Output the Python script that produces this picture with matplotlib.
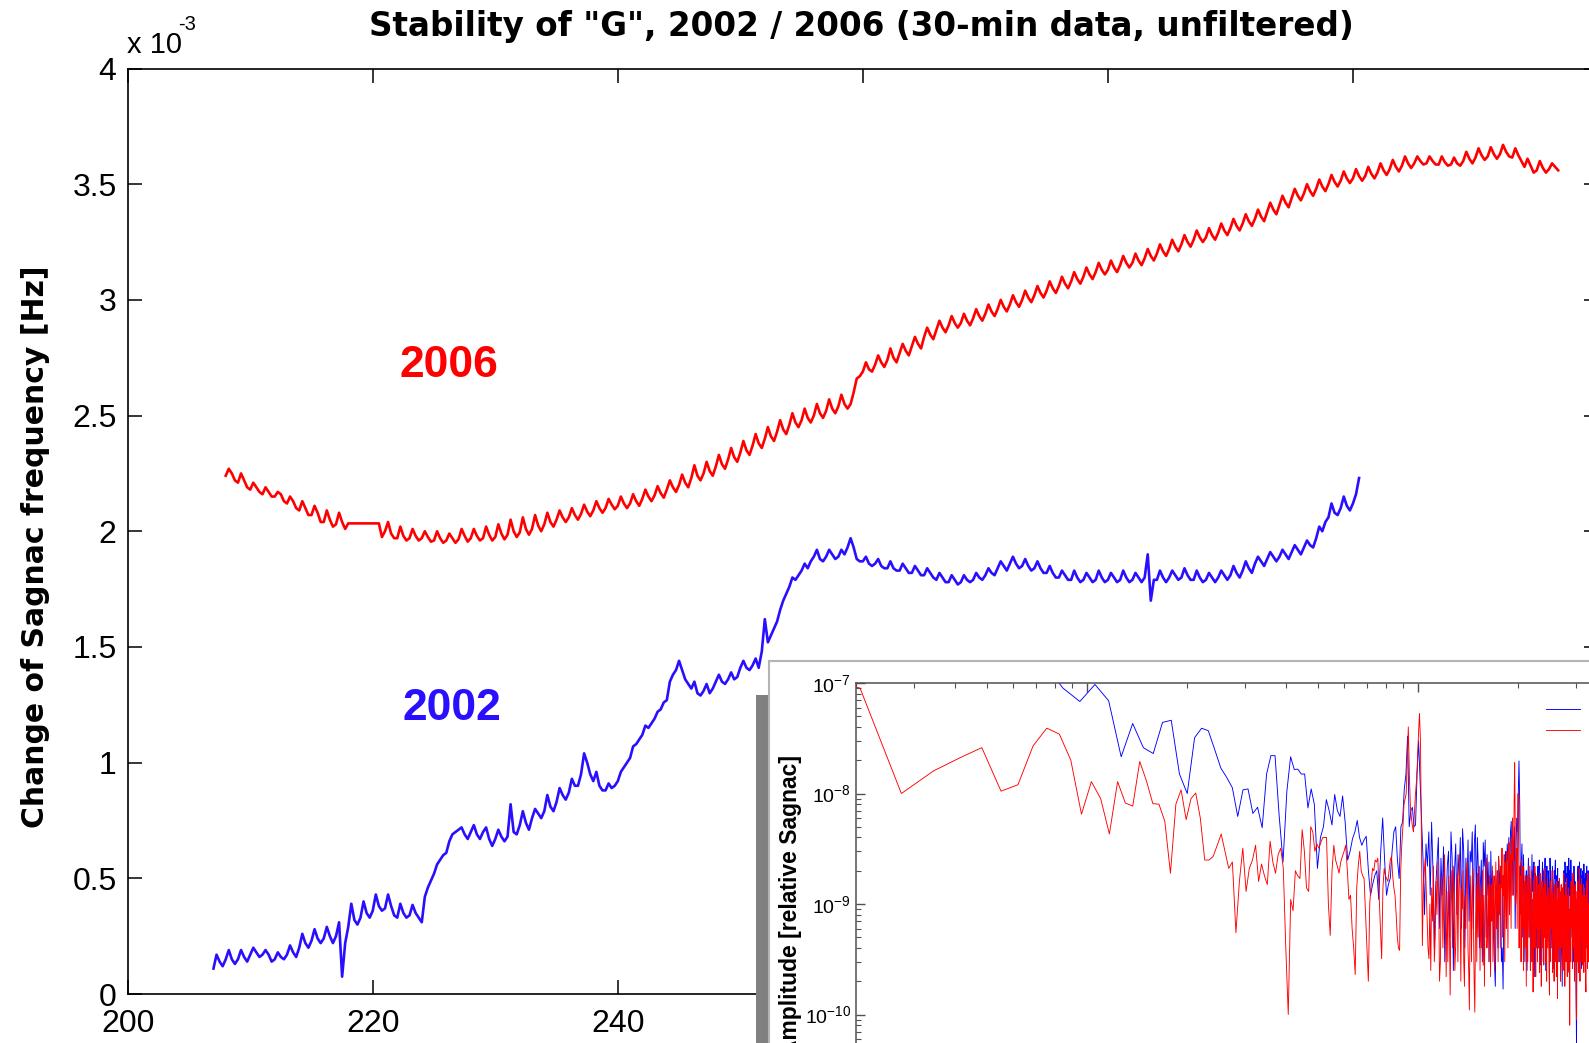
import numpy as np
import matplotlib
matplotlib.use("Agg")
import matplotlib.pyplot as plt
from matplotlib.patches import Rectangle
from matplotlib.ticker import MultipleLocator, FormatStrFormatter, LogLocator, FixedLocator

plt.rcParams['font.family'] = ['Liberation Sans', 'DejaVu Sans']
plt.rcParams['mathtext.fontset'] = 'custom'
plt.rcParams['mathtext.rm'] = 'Liberation Sans'
plt.rcParams['mathtext.it'] = 'Liberation Sans:italic'
plt.rcParams['mathtext.bf'] = 'Liberation Sans:bold'

# Change of Sagnac frequency, 6-hourly values [1e-3 Hz]
step_days = 0.25
start_2006 = 208.0
sagnac_2006 = [
    2.24, 2.27, 2.25, 2.22,  2.21, 2.25, 2.22, 2.19,  2.18, 2.21, 2.19, 2.17,
    2.16, 2.19, 2.17, 2.15,  2.15, 2.17, 2.16, 2.13,  2.12, 2.15, 2.13, 2.10,
    2.09, 2.13, 2.10, 2.07,  2.07, 2.11, 2.08, 2.04,  2.04, 2.09, 2.05, 2.02,
    2.03, 2.08, 2.04, 2.01,  2.034, 2.034, 2.034, 2.034,  2.034, 2.034, 2.034, 2.034,
    2.034, 2.034, 2.034, 1.975,  2.00, 2.04, 1.99, 1.97,  1.97, 2.02, 1.98, 1.96,
    1.97, 2.01, 1.98, 1.96,  1.97, 2.00, 1.975, 1.955,  1.96, 2.00, 1.97, 1.95,
    1.96, 1.99, 1.97, 1.95,  1.965, 2.01, 1.98, 1.955,  1.97, 2.01, 1.98, 1.96,
    1.97, 2.02, 1.985, 1.96,  1.975, 2.03, 1.99, 1.965,  1.985, 2.05, 2.00, 1.975,
    1.995, 2.06, 2.01, 1.985,  2.01, 2.07, 2.025, 2.00,  2.03, 2.08, 2.04, 2.02,
    2.05, 2.09, 2.06, 2.04,  2.06, 2.10, 2.07, 2.05,  2.075, 2.115, 2.085, 2.065,
    2.09, 2.13, 2.10, 2.08,  2.10, 2.14, 2.115, 2.095,  2.11, 2.15, 2.12, 2.10,
    2.12, 2.16, 2.13, 2.11,  2.14, 2.18, 2.15, 2.13,  2.155, 2.195, 2.165, 2.145,
    2.18, 2.22, 2.19, 2.17,  2.20, 2.245, 2.21, 2.19,  2.23, 2.285, 2.24, 2.22,
    2.25, 2.30, 2.26, 2.24,  2.28, 2.33, 2.29, 2.27,  2.31, 2.36, 2.32, 2.30,
    2.34, 2.39, 2.35, 2.33,  2.37, 2.42, 2.38, 2.36,  2.40, 2.45, 2.41, 2.39,
    2.43, 2.48, 2.44, 2.42,  2.46, 2.51, 2.47, 2.45,  2.48, 2.53, 2.49, 2.47,
    2.50, 2.55, 2.51, 2.49,  2.52, 2.57, 2.53, 2.51,  2.54, 2.59, 2.55, 2.53,
    2.55, 2.60, 2.66, 2.67,  2.69, 2.73, 2.70, 2.69,  2.72, 2.76, 2.73, 2.71,
    2.74, 2.79, 2.75, 2.73,  2.77, 2.81, 2.78, 2.76,  2.80, 2.84, 2.81, 2.79,
    2.84, 2.88, 2.85, 2.83,  2.87, 2.91, 2.88, 2.86,  2.89, 2.93, 2.90, 2.88,
    2.90, 2.94, 2.91, 2.89,  2.92, 2.96, 2.93, 2.91,  2.94, 2.98, 2.95, 2.93,
    2.96, 3.00, 2.97, 2.95,  2.98, 3.02, 2.99, 2.97,  3.00, 3.04, 3.01, 2.99,
    3.02, 3.06, 3.03, 3.01,  3.04, 3.08, 3.05, 3.03,  3.06, 3.10, 3.07, 3.05,
    3.08, 3.12, 3.09, 3.07,  3.10, 3.14, 3.11, 3.09,  3.12, 3.16, 3.13, 3.11,
    3.13, 3.17, 3.14, 3.12,  3.15, 3.19, 3.16, 3.14,  3.16, 3.20, 3.17, 3.15,
    3.18, 3.22, 3.19, 3.17,  3.20, 3.24, 3.21, 3.19,  3.22, 3.26, 3.23, 3.21,
    3.24, 3.28, 3.25, 3.23,  3.26, 3.30, 3.27, 3.25,  3.27, 3.31, 3.28, 3.26,
    3.29, 3.33, 3.30, 3.28,  3.31, 3.35, 3.32, 3.30,  3.33, 3.37, 3.34, 3.32,
    3.35, 3.39, 3.36, 3.34,  3.38, 3.42, 3.39, 3.37,  3.41, 3.45, 3.42, 3.40,
    3.44, 3.48, 3.45, 3.43,  3.46, 3.50, 3.47, 3.45,  3.48, 3.52, 3.49, 3.47,
    3.50, 3.54, 3.51, 3.49,  3.515, 3.555, 3.525, 3.505,  3.525, 3.565, 3.535, 3.515,
    3.535, 3.575, 3.545, 3.525,  3.55, 3.59, 3.56, 3.54,  3.565, 3.605, 3.575, 3.555,
    3.58, 3.62, 3.59, 3.57,  3.59, 3.62, 3.60, 3.585,  3.59, 3.62, 3.60, 3.585,
    3.585, 3.62, 3.595, 3.58,  3.585, 3.615, 3.59, 3.58,  3.60, 3.64, 3.61, 3.59,
    3.615, 3.655, 3.625, 3.605,  3.62, 3.66, 3.63, 3.61,  3.63, 3.67, 3.64, 3.62,
    3.615, 3.655, 3.625, 3.60,  3.575, 3.61, 3.58, 3.55,  3.56, 3.60, 3.57, 3.55,
    3.565, 3.59, 3.575, 3.56,
]

start_2002 = 207.0
sagnac_2002 = [
    0.11, 0.17, 0.14, 0.12,  0.15, 0.19, 0.15, 0.13,  0.15, 0.19, 0.16, 0.14,
    0.17, 0.20, 0.18, 0.16,  0.17, 0.19, 0.17, 0.14,  0.15, 0.18, 0.16, 0.15,
    0.17, 0.21, 0.18, 0.16,  0.20, 0.26, 0.22, 0.20,  0.23, 0.28, 0.24, 0.22,
    0.24, 0.29, 0.25, 0.22,  0.25, 0.31, 0.075, 0.22,  0.29, 0.39, 0.32, 0.30,
    0.33, 0.40, 0.35, 0.33,  0.36, 0.43, 0.38, 0.36,  0.37, 0.43, 0.38, 0.34,
    0.33, 0.39, 0.35, 0.33,  0.34, 0.385, 0.35, 0.33,  0.31, 0.42, 0.46, 0.49,
    0.52, 0.56, 0.58, 0.60,  0.61, 0.66, 0.69, 0.70,  0.71, 0.72, 0.69, 0.67,
    0.70, 0.73, 0.69, 0.67,  0.70, 0.72, 0.67, 0.64,  0.67, 0.71, 0.68, 0.66,
    0.68, 0.82, 0.70, 0.69,  0.73, 0.79, 0.74, 0.71,  0.76, 0.80, 0.78, 0.76,
    0.79, 0.86, 0.81, 0.79,  0.83, 0.89, 0.86, 0.84,  0.87, 0.93, 0.90, 0.90,
    0.95, 1.04, 1.00, 0.95,  0.92, 0.96, 0.90, 0.88,  0.88, 0.91, 0.89, 0.90,
    0.92, 0.96, 0.98, 1.00,  1.02, 1.07, 1.08, 1.10,  1.12, 1.16, 1.15, 1.17,
    1.19, 1.22, 1.23, 1.26,  1.27, 1.35, 1.38, 1.40,  1.44, 1.40, 1.36, 1.34,
    1.32, 1.35, 1.30, 1.29,  1.31, 1.34, 1.30, 1.32,  1.35, 1.38, 1.35, 1.34,
    1.36, 1.39, 1.36, 1.37,  1.41, 1.44, 1.41, 1.40,  1.42, 1.45, 1.41, 1.48,
    1.62, 1.52, 1.55, 1.58,  1.61, 1.66, 1.70, 1.73,  1.76, 1.80, 1.79, 1.81,
    1.83, 1.86, 1.84, 1.87,  1.89, 1.92, 1.88, 1.87,  1.89, 1.92, 1.90, 1.88,
    1.89, 1.92, 1.90, 1.93,  1.97, 1.93, 1.88, 1.87,  1.87, 1.89, 1.86, 1.85,
    1.86, 1.88, 1.85, 1.84,  1.84, 1.87, 1.84, 1.83,  1.83, 1.86, 1.84, 1.82,
    1.82, 1.85, 1.83, 1.81,  1.81, 1.84, 1.82, 1.80,  1.79, 1.82, 1.80, 1.78,
    1.78, 1.81, 1.79, 1.77,  1.78, 1.81, 1.79, 1.78,  1.79, 1.82, 1.80, 1.79,
    1.81, 1.84, 1.82, 1.81,  1.84, 1.87, 1.85, 1.83,  1.86, 1.89, 1.86, 1.84,
    1.85, 1.88, 1.85, 1.83,  1.84, 1.87, 1.84, 1.82,  1.82, 1.85, 1.82, 1.80,
    1.80, 1.83, 1.81, 1.79,  1.79, 1.83, 1.80, 1.78,  1.79, 1.82, 1.80, 1.78,
    1.79, 1.83, 1.80, 1.78,  1.79, 1.82, 1.80, 1.78,  1.79, 1.83, 1.80, 1.78,
    1.79, 1.82, 1.80, 1.78,  1.80, 1.90, 1.70, 1.79,  1.79, 1.83, 1.80, 1.78,
    1.80, 1.83, 1.81, 1.79,  1.80, 1.84, 1.81, 1.79,  1.79, 1.83, 1.80, 1.78,
    1.79, 1.82, 1.80, 1.78,  1.80, 1.83, 1.81, 1.79,  1.81, 1.85, 1.82, 1.80,
    1.83, 1.87, 1.84, 1.82,  1.86, 1.89, 1.87, 1.85,  1.88, 1.91, 1.89, 1.87,
    1.89, 1.92, 1.90, 1.88,  1.91, 1.94, 1.92, 1.90,  1.93, 1.96, 1.94, 1.93,
    1.97, 2.02, 2.00, 2.04,  2.06, 2.12, 2.08, 2.07,  2.10, 2.15, 2.11, 2.09,
    2.12, 2.16, 2.23,
]

# Amplitude spectra [1e-10 relative Sagnac]; first value is frequency bin 2
df_2006 = 0.00688   # cycles per day
df_2002 = 0.01058
first_bin = 2
amp_2006 = [
    1200, 900, 100, 160, 210, 260, 105, 120, 270, 390, 345, 200, 65, 128, 90, 43,
    128, 82, 77, 195, 130, 81, 80, 56, 19, 80, 108, 58, 90, 101, 60, 25,
    25, 27, 34, 43, 30, 21, 24, 5.5, 16, 32, 13, 21, 25, 34, 16, 23,
    18, 15, 37, 24, 19, 28, 32, 21, 4, 1.0, 11, 8.7, 20, 18, 17, 47,
    30, 14, 13, 50, 45, 30, 35, 32, 36, 40, 40, 40, 10, 5.2, 20, 34,
    25, 22, 19, 24, 27, 30, 34, 20, 11, 12, 6, 4, 2.3, 14, 22, 30,
    20, 18, 17, 8, 4, 2.0, 10, 15, 21, 20, 25, 24, 26, 12, 6, 3.2,
    14, 21, 18, 17, 16, 20, 25, 27, 18, 14, 12, 8, 5, 4, 3.8, 20,
    35, 50, 80, 90, 100, 200, 400, 150, 75, 60, 50, 45, 70, 100, 130, 200,
    350, 530, 300, 40, 4.2, 15, 20, 26, 14, 8, 4, 3.2,
    10, 2.5, 14, 7, 22, 3, 5, 16, 8, 24, 11, 2, 3, 12, 18, 4, 10, 28, 9, 2.2,
    13, 3, 18, 6, 1.5, 10, 20, 4, 22, 12, 2.5, 4, 11, 19, 3, 13, 28, 10, 2, 14,
    9, 20, 3, 1.8, 12, 6, 17, 24, 4, 2.5, 1.1, 9, 18, 3, 11, 21, 6, 2, 1.05, 6,
    15, 3, 19, 5, 11, 22, 2.5, 14, 4, 10, 20, 2.8, 12, 1.8, 9, 17, 26, 4, 6, 15,
    3, 18, 11, 2.2, 15, 7, 22, 3, 12, 18, 2.5, 10, 24, 6, 13, 20, 3, 27, 8, 15,
    4, 22, 14, 32, 5, 18, 12, 28, 3, 16, 24, 6, 30, 14, 4, 20, 36, 8, 18, 28,
    6, 40, 25, 60, 12, 20, 90, 190, 60, 10, 15, 32, 6, 45, 100, 35, 4, 22, 8, 18,
    3, 25, 6, 15, 22, 2.5, 6, 16, 4, 18, 12, 1.8, 11, 18, 3, 13, 22, 5, 10, 17,
    2.5, 5, 12, 20, 3, 11, 1.6, 9, 16, 4, 22, 10, 2.2, 13, 6, 18, 3, 11, 4, 15,
    10, 2.4, 19, 6, 12, 1.8, 8, 16, 4, 7, 14, 2.8, 21, 5, 10, 15, 3, 12, 2, 9,
    17, 4, 7, 14, 2.6, 1.5, 11, 16, 3, 12, 6, 10, 20, 2.4, 13, 5, 11, 2, 9, 15,
    3, 12, 10, 2.2, 16, 6, 1.4, 11, 4, 14, 7, 17, 3, 12, 2, 10, 15, 4, 11, 6,
    14, 2.5, 10, 19, 4, 12, 1.8, 9, 15, 3, 11, 17, 5, 2.2, 12, 6, 14, 10, 2.4, 9,
    0.8, 5, 12, 3, 16, 6, 10, 14, 2.6, 11, 19, 4, 9, 12, 2, 10, 15, 3, 11, 1.5,
    0.9, 6, 13, 3, 16, 7, 2.4, 13, 8, 21, 4, 2, 11, 15, 3, 10, 17, 5, 12, 2.8,
    5, 11, 15, 2.4, 10, 14, 3, 12, 9, 2, 1.6, 10, 16, 4, 12, 2.6, 19, 7, 3, 10, 8,
]
amp_2002 = [
    6000, 4000, 3000, 2500, 2000, 1500, 900, 680, 970, 690, 215, 430, 260, 230, 440,
    460, 150, 100, 320, 390, 370, 250, 170, 140, 113, 62, 108, 110, 66, 75, 49,
    150, 220, 220, 64, 24, 105, 215, 165, 166, 150, 150, 74, 110, 80, 21, 40,
    50, 88, 70, 52, 98, 70, 62, 95, 55, 25, 30, 39, 45, 57, 40, 34,
    38, 41, 20, 12, 15, 18, 20, 11, 30, 60, 25, 12, 15, 17, 30, 45,
    50, 25, 17, 50, 55, 110, 150, 330, 50, 70, 75, 50, 52, 150, 300, 130,
    60, 25, 8, 35, 22, 45, 12, 55, 20, 4, 14, 24, 40, 6, 26, 12, 33, 3, 9, 22,
    30, 5, 45, 25, 2.5, 20, 35, 8, 28, 18, 40, 6, 48, 30, 4, 26, 14, 38, 7, 30,
    24, 45, 6, 35, 52, 10, 40, 20, 4, 15, 25, 3, 36, 22, 38, 5, 28, 12, 24, 3,
    30, 12, 20, 5, 3, 1.8, 10, 20, 4, 25, 14, 22, 3, 4, 1.7, 12, 20, 30, 6, 35,
    25, 40, 8, 45, 56, 12, 38, 25, 50, 6, 30, 60, 45, 90, 197, 80, 10, 22, 35, 5,
    28, 15, 3, 12, 20, 2.5, 16, 26, 5, 22, 10, 3, 28, 13, 20, 24, 2.2, 19, 15, 4,
    12, 22, 4, 25, 13, 2.8, 9, 16, 24, 3, 20, 14, 26, 2.5, 18, 22, 5, 20, 16, 3,
    26, 14, 4, 11, 22, 15, 2.6, 20, 17, 25, 4, 18, 14, 21, 3, 16, 8, 13, 2.2, 10,
    4, 1.8, 8, 15, 20, 3, 24, 16, 19, 4, 22, 14, 2.5, 26, 12, 20, 3, 25, 13, 5,
    10, 19, 3, 22, 9, 16, 6, 2, 0.5, 8, 15, 22, 3, 19, 24, 4, 17, 21, 2.6, 18,
    10, 20, 3, 23, 12, 17, 2.4, 19, 14, 22, 4, 16, 20, 3, 19, 15,
]

RED = '#ff0000'
BLUE_MAIN = '#2a0fff'
BLUE_FFT = '#0000ff'

W, H = 1589, 1043
fig = plt.figure(figsize=(W / 100, H / 100), dpi=100)


def px_rect(left, top, right, bottom):
    return [left / W, 1 - bottom / H, (right - left) / W, (bottom - top) / H]


# ---- main time-series axes ----
ax = fig.add_axes(px_rect(127.7, 68.5, 1598, 994), zorder=0)
t_2006 = start_2006 + step_days * np.arange(len(sagnac_2006))
t_2002 = start_2002 + step_days * np.arange(len(sagnac_2002))
ax.plot(t_2006, sagnac_2006, color=RED, lw=1.9)
ax.plot(t_2002, sagnac_2002, color=BLUE_MAIN, lw=1.9)
ax.set_xlim(200, 320)
ax.set_ylim(0, 4)
x_ticks = [200, 220, 240, 260, 280, 300, 320]
ax.xaxis.set_major_locator(FixedLocator(x_ticks))
# labels right of 240 sit under the spectrum panel
ax.set_xticklabels(['200', '220', '240', '', '', '', ''])
ax.yaxis.set_major_locator(MultipleLocator(0.5))
ax.yaxis.set_major_formatter(FormatStrFormatter('%g'))
ax.tick_params(direction='in', length=10, width=1.1, top=True, right=True,
               labelsize=23, pad=8)
ax.tick_params(axis='x', pad=11)
for sp in ax.spines.values():
    sp.set_linewidth(1.2)

ax.text(222.2, 2.666, '2006', color=RED, fontsize=32, fontweight='bold',
        ha='left', va='baseline')
ax.text(222.4, 1.184, '2002', color=BLUE_MAIN, fontsize=32, fontweight='bold',
        ha='left', va='baseline')

fig.text(127 / W, 1 - 53 / H, 'x 10', fontsize=21, ha='left', va='baseline')
fig.text(178 / W, 1 - 30 / H, '-3', fontsize=14.5, ha='left', va='baseline')
fig.text(861 / W, 1 - 36 / H,
         'Stability of "G", 2002 / 2006 (30-min data, unfiltered)',
         family='DejaVu Sans', fontweight='bold', fontsize=23.5,
         ha='center', va='baseline')
fig.text(36 / W, 1 - 547 / H, 'Change of Sagnac frequency [Hz]',
         family='DejaVu Sans', fontweight='bold', fontsize=21.5,
         rotation=90, ha='center', va='center')

# ---- spectrum panel in the lower right ----
fig.add_artist(Rectangle((756 / W, -0.2), 12 / W, 0.2 + 1 - 695 / H,
                         transform=fig.transFigure, facecolor='#808080',
                         edgecolor='none', zorder=1))
panel = fig.add_axes(px_rect(769, 661, 2200, 1400), zorder=2)
panel.set_xticks([])
panel.set_yticks([])
panel.set_facecolor('white')
for sp in panel.spines.values():
    sp.set_color('#b4b4b4')
    sp.set_linewidth(1.5)

ax_in = fig.add_axes(px_rect(855.5, 683, 855.5 + 993, 683 + 442), zorder=3)
ax_in.set_xscale('log')
ax_in.set_yscale('log')
f_2006 = df_2006 * np.arange(first_bin, first_bin + len(amp_2006))
f_2002 = df_2002 * np.arange(first_bin, first_bin + len(amp_2002))
ax_in.plot(f_2002, np.array(amp_2002) * 1e-10, color=BLUE_FFT, lw=0.65,
           label='2002')
ax_in.plot(f_2006, np.array(amp_2006) * 1e-10, color=RED, lw=0.65,
           label='2006')
ax_in.set_xlim(0.02, 20)
ax_in.set_ylim(1e-11, 1e-7)
ax_in.yaxis.set_major_locator(LogLocator(base=10, numticks=10))
ax_in.yaxis.set_minor_locator(LogLocator(base=10, subs=np.arange(2, 10), numticks=20))
ax_in.tick_params(which='both', direction='in', top=True, right=True,
                  colors='#505050', labelcolor='black', labelsize=14, pad=3,
                  labelbottom=False)
ax_in.tick_params(which='major', length=6.5, width=1.0)
ax_in.tick_params(which='minor', length=3.3, width=0.8)
for sp in ax_in.spines.values():
    sp.set_color('#505050')
    sp.set_linewidth(1.1)

ax_in.legend(loc='upper left', bbox_to_anchor=(1546 / W, 1 - 702 / H),
             bbox_transform=fig.transFigure, frameon=False, fontsize=14,
             handlelength=1.75, borderpad=0, borderaxespad=0,
             labelspacing=0.2, handletextpad=0.8)

fig.text(791 / W, 1 - 755 / H, 'Amplitude [relative Sagnac]',
         family='Liberation Sans', fontweight='bold', fontsize=16.5,
         rotation=90, ha='center', va='top', zorder=5)

fig.savefig('out.png', dpi=100)
